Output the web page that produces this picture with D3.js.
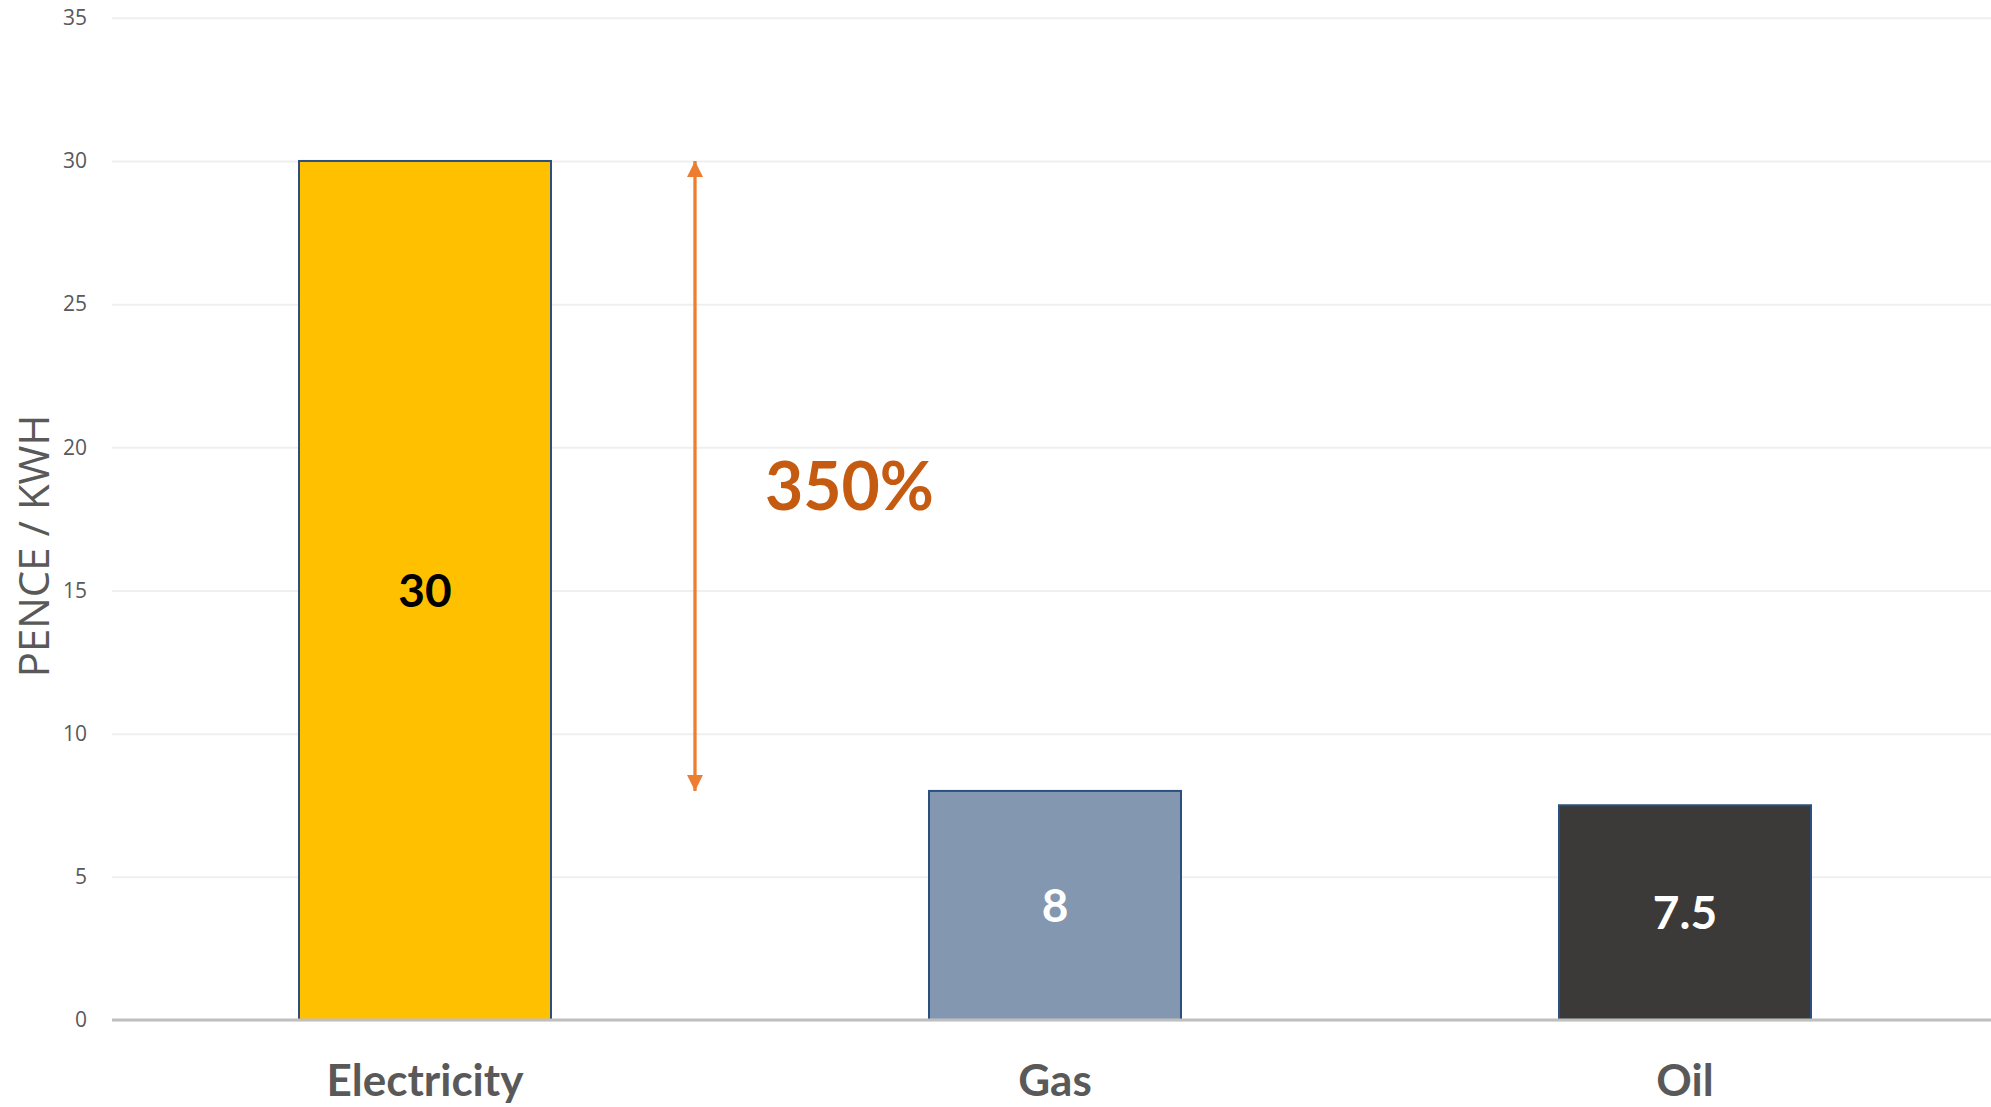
<!DOCTYPE html>
<html>
<head>
<meta charset="utf-8">
<script src="https://cdn.jsdelivr.net/npm/d3@7"></script>
<style>
    body { margin: 0; background: #ffffff; }
    svg { display: block; }
</style>
</head>
<body>
<div id="chart"></div>
<script>
// data
var categories = ['Electricity', 'Gas', 'Oil'];
var values = [30, 8, 7.5];
var valueLabels = ['30', '8', '7.5'];
var yTicks = [0, 5, 10, 15, 20, 25, 30, 35];
var arrowFrom = 8;
var arrowTo = 30;
var arrowLabel = '350%';

var barFill = ['#FFC000', '#8497B0', '#3B3A38'];
var labelFill = ['#000000', '#ffffff', '#ffffff'];

var W = 1991, H = 1107;
var plotLeft = 112, plotRight = 1991;

var svg = d3.select('#chart').append('svg')
    .attr('width', W)
    .attr('height', H);

var x = d3.scaleBand()
    .domain(categories)
    .range([110, 2000])
    .paddingInner(0.6)
    .paddingOuter(0.3);

var y = d3.scaleLinear()
    .domain([0, 35])
    .range([1020, 17.8]);

// gridlines and tick labels
var yAxis = svg.append('g')
    .attr('transform', 'translate(' + plotLeft + ',0)')
    .call(d3.axisLeft(y)
        .tickValues(yTicks)
        .tickSize(-(plotRight - plotLeft))
        .tickPadding(25));

yAxis.select('.domain').remove();
yAxis.selectAll('.tick line')
    .attr('stroke', '#EFEFEF')
    .attr('stroke-width', 2);
yAxis.selectAll('.tick text')
    .attr('fill', '#595959')
    .style('font-family', '"Open Sans", sans-serif')
    .style('font-size', '21px');

// axis title
svg.append('text')
    .attr('transform', 'translate(34,546) rotate(-90)')
    .attr('text-anchor', 'middle')
    .attr('dy', '0.35em')
    .attr('fill', '#595959')
    .style('font-family', '"Open Sans", sans-serif')
    .style('font-size', '42px')
    .text('PENCE / KWH');

// bars
svg.selectAll('.bar')
    .data(values)
    .enter().append('rect')
    .attr('class', 'bar')
    .attr('x', function(d, i) { return x(categories[i]); })
    .attr('y', function(d) { return y(d); })
    .attr('width', x.bandwidth())
    .attr('height', function(d) { return y(0) - y(d); })
    .attr('fill', function(d, i) { return barFill[i]; })
    .attr('stroke', '#2B4F7E')
    .attr('stroke-width', 2);

// baseline
svg.append('line')
    .attr('x1', plotLeft)
    .attr('x2', plotRight)
    .attr('y1', y(0))
    .attr('y2', y(0))
    .attr('stroke', '#BFBFBF')
    .attr('stroke-width', 3);

// value labels in the middle of each bar
svg.selectAll('.value')
    .data(values)
    .enter().append('text')
    .attr('class', 'value')
    .attr('x', function(d, i) { return x(categories[i]) + x.bandwidth() / 2; })
    .attr('y', function(d) { return (y(d) + y(0)) / 2; })
    .attr('dy', '0.36em')
    .attr('text-anchor', 'middle')
    .attr('fill', function(d, i) { return labelFill[i]; })
    .style('font-family', 'Lato, sans-serif')
    .style('font-weight', 'bold')
    .style('font-size', '46px')
    .text(function(d, i) { return valueLabels[i]; });

// category labels
svg.selectAll('.cat')
    .data(categories)
    .enter().append('text')
    .attr('class', 'cat')
    .attr('x', function(d) { return x(d) + x.bandwidth() / 2; })
    .attr('y', 1096)
    .attr('text-anchor', 'middle')
    .attr('fill', '#595959')
    .style('font-family', 'Lato, sans-serif')
    .style('font-weight', 'bold')
    .style('font-size', '44px')
    .text(function(d) { return d; });

// double headed arrow between electricity and gas
var defs = svg.append('defs');
defs.append('marker')
    .attr('id', 'head')
    .attr('viewBox', '0 0 10 10')
    .attr('refX', 10)
    .attr('refY', 5)
    .attr('markerWidth', 16)
    .attr('markerHeight', 16)
    .attr('markerUnits', 'userSpaceOnUse')
    .attr('orient', 'auto-start-reverse')
    .append('path')
    .attr('d', 'M0,0 L10,5 L0,10 Z')
    .attr('fill', '#ED7D31');

var arrowX = 695;
svg.append('line')
    .attr('x1', arrowX)
    .attr('x2', arrowX)
    .attr('y1', y(arrowFrom))
    .attr('y2', y(arrowTo))
    .attr('stroke', '#ED7D31')
    .attr('stroke-width', 3.3)
    .attr('marker-start', 'url(#head)')
    .attr('marker-end', 'url(#head)');

svg.append('text')
    .attr('x', 765)
    .attr('y', 510)
    .attr('fill', '#C55A11')
    .style('font-family', 'Lato, sans-serif')
    .style('font-weight', 'bold')
    .style('font-size', '66px')
    .text(arrowLabel);
</script>
</body>
</html>
